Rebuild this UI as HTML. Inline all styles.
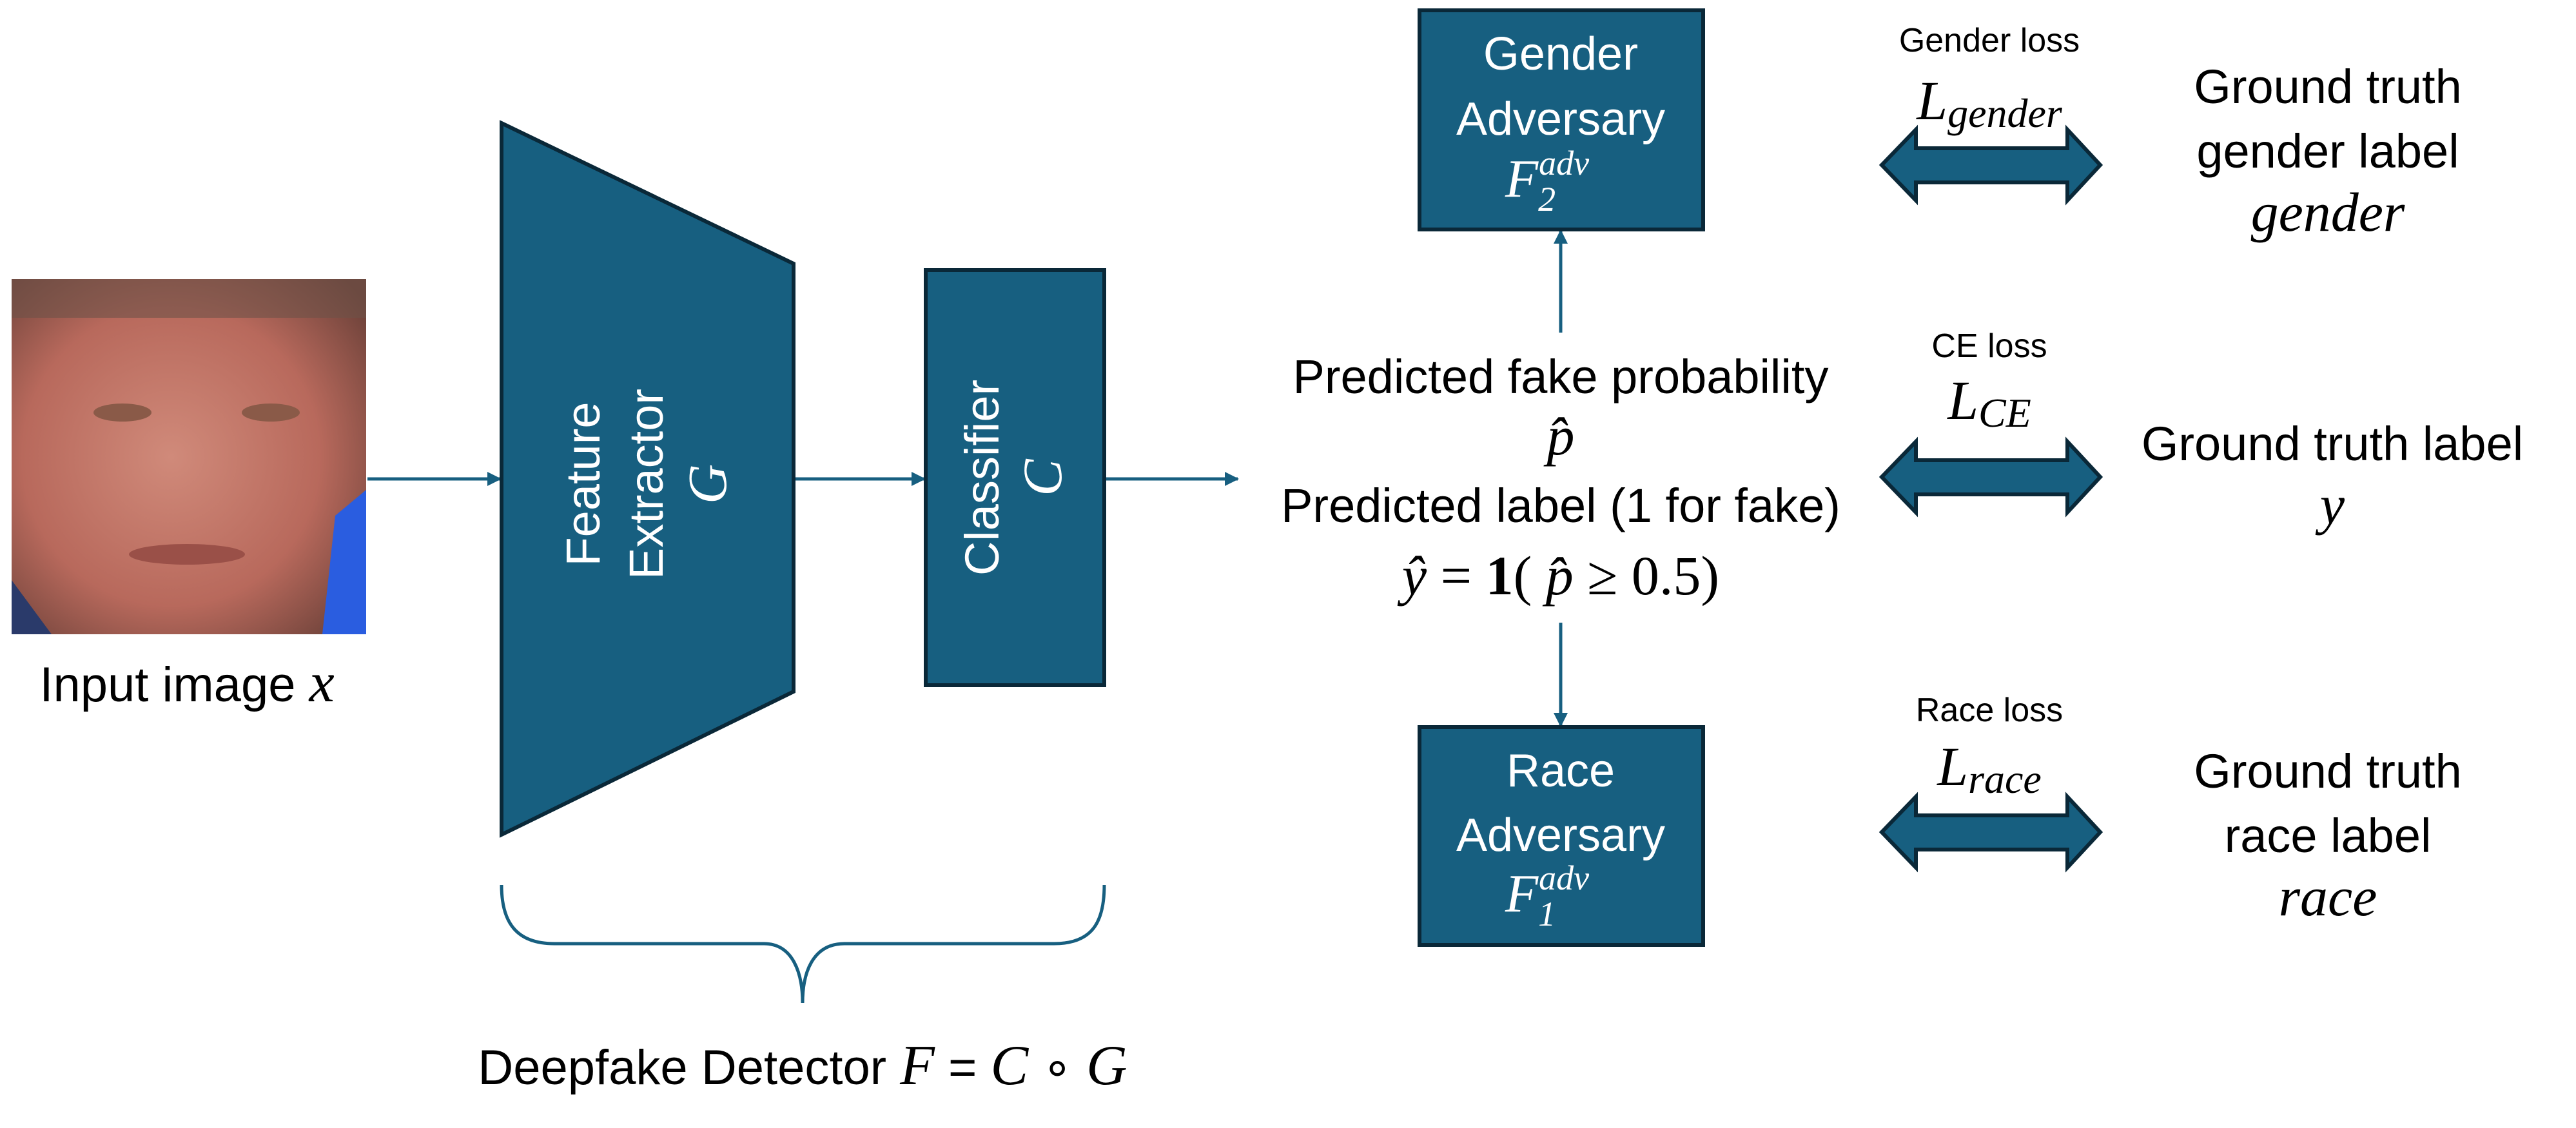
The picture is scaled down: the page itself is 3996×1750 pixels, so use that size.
<!DOCTYPE html>
<html><head><meta charset="utf-8"><style>
html,body{margin:0;padding:0;background:#fff;}
svg{display:block;}
.t{font-family:"Liberation Sans",sans-serif;}
.m{font-family:"Liberation Serif",serif;font-style:italic;}
</style></head><body>
<svg width="3996" height="1750" viewBox="0 0 3996 1750" xmlns="http://www.w3.org/2000/svg">
<defs>
<radialGradient id="skin" cx="0.45" cy="0.5" r="0.7">
<stop offset="0" stop-color="#d08a7a"/><stop offset="0.6" stop-color="#b8695c"/><stop offset="1" stop-color="#6a4038"/>
</radialGradient>
<marker id="ah" markerWidth="22" markerHeight="22" refX="20" refY="11" orient="auto" markerUnits="userSpaceOnUse" viewBox="0 0 22 22"><path d="M0,0 L22,11 L0,22 z" fill="#175f80"/></marker>
</defs>
<rect x="18" y="433" width="550" height="551" fill="url(#skin)"/>
<rect x="18" y="433" width="550" height="60" fill="#6e5247" opacity="0.6"/>
<polygon points="520,800 568,760 568,984 500,984" fill="#2a5de0"/>
<polygon points="18,900 80,984 18,984" fill="#2a3a6a"/>
<ellipse cx="190" cy="640" rx="45" ry="14" fill="#8a5a48"/>
<ellipse cx="420" cy="640" rx="45" ry="14" fill="#8a5a48"/>
<ellipse cx="290" cy="860" rx="90" ry="16" fill="#9a5048"/>
<text class="t" x="290" y="1088" font-size="76" text-anchor="middle">Input image <tspan class="m" font-size="88">x</tspan></text>
<g stroke="#175f80" stroke-width="5" fill="none">
<line x1="570" y1="743" x2="776" y2="743" marker-end="url(#ah)"/>
<line x1="1231" y1="743" x2="1434" y2="743" marker-end="url(#ah)"/>
<line x1="1713" y1="743" x2="1920" y2="743" marker-end="url(#ah)"/>
<line x1="2421" y1="516" x2="2421" y2="358" marker-end="url(#ah)"/>
<line x1="2421" y1="966" x2="2421" y2="1126" marker-end="url(#ah)"/>
</g>
<polygon points="778,191 1231,409 1231,1073 778,1295" fill="#175f80" stroke="#0a2838" stroke-width="6"/>
<g fill="#fff" font-size="74">
<text class="t" transform="translate(930,751) rotate(-90)" text-anchor="middle">Feature</text>
<text class="t" transform="translate(1028,751) rotate(-90)" text-anchor="middle">Extractor</text>
<text class="m" font-size="86" transform="translate(1126,751) rotate(-90)" text-anchor="middle">G</text>
</g>
<rect x="1436" y="419" width="277" height="644" fill="#175f80" stroke="#0a2838" stroke-width="6"/>
<g fill="#fff" font-size="74">
<text class="t" transform="translate(1549,741) rotate(-90)" text-anchor="middle">Classifier</text>
<text class="m" font-size="86" transform="translate(1646,741) rotate(-90)" text-anchor="middle">C</text>
</g>
<path d="M778,1373 C778,1430 800,1464 860,1464 L1185,1464 C1230,1464 1245,1510 1245,1556 C1245,1510 1260,1464 1310,1464 L1635,1464 C1695,1464 1713,1430 1713,1373" fill="none" stroke="#175f80" stroke-width="5"/>
<text class="t" x="1245" y="1682" font-size="76" text-anchor="middle">Deepfake Detector <tspan class="m" font-size="88">F</tspan> = <tspan class="m" font-size="88">C</tspan> ∘ <tspan class="m" font-size="88">G</tspan></text>
<rect x="2202" y="16" width="440" height="340" fill="#175f80" stroke="#0a2838" stroke-width="6"/>
<g fill="#fff" font-size="72" text-anchor="middle">
<text class="t" x="2421" y="108">Gender</text>
<text class="t" x="2421" y="209">Adversary</text>
<text class="m" font-size="84" x="2400" y="305">F<tspan font-size="54" dy="22">2</tspan><tspan font-size="54" dy="-56" dx="-26">adv</tspan></text>
</g>
<rect x="2202" y="1128" width="440" height="338" fill="#175f80" stroke="#0a2838" stroke-width="6"/>
<g fill="#fff" font-size="72" text-anchor="middle">
<text class="t" x="2421" y="1220">Race</text>
<text class="t" x="2421" y="1320">Adversary</text>
<text class="m" font-size="84" x="2400" y="1414">F<tspan font-size="54" dy="22">1</tspan><tspan font-size="54" dy="-56" dx="-26">adv</tspan></text>
</g>
<g font-size="74" text-anchor="middle">
<text class="t" x="2421" y="610">Predicted fake probability</text>
<text class="m" font-size="86" x="2421" y="705">p̂</text>
<text class="t" x="2421" y="810">Predicted label (1 for fake)</text>
<text class="m" font-size="86" x="2421" y="922">ŷ <tspan font-style="normal">= </tspan><tspan font-style="normal" font-weight="bold">1</tspan><tspan font-style="normal">( </tspan>p̂<tspan font-style="normal"> ≥ 0.5)</tspan></text>
</g>
<g fill="#175f80" stroke="#0a2838" stroke-width="6" stroke-linejoin="miter">
<polygon points="2919,256 2972,201 2972,230 3207,230 3207,201 3258,256 3207,311 3207,283 2972,283 2972,311"/>
<polygon points="2919,740 2972,685 2972,714 3207,714 3207,685 3258,740 3207,795 3207,767 2972,767 2972,795"/>
<polygon points="2919,1291 2972,1236 2972,1265 3207,1265 3207,1236 3258,1291 3207,1346 3207,1318 2972,1318 2972,1346"/>
</g>
<g text-anchor="middle">
<text class="t" x="3086" y="80" font-size="52">Gender loss</text>
<text class="m" x="3086" y="185" font-size="86">L<tspan font-size="64" dy="12">gender</tspan></text>
<text class="t" x="3086" y="554" font-size="52">CE loss</text>
<text class="m" x="3086" y="650" font-size="86">L<tspan font-size="64" dy="12">CE</tspan></text>
<text class="t" x="3086" y="1119" font-size="52">Race loss</text>
<text class="m" x="3086" y="1218" font-size="86">L<tspan font-size="64" dy="12">race</tspan></text>
</g>
<g text-anchor="middle" font-size="74">
<text class="t" x="3611" y="160">Ground truth</text>
<text class="t" x="3611" y="260">gender label</text>
<text class="m" font-size="86" x="3611" y="358">gender</text>
<text class="t" x="3618" y="714">Ground truth label</text>
<text class="m" font-size="86" x="3618" y="812">y</text>
<text class="t" x="3611" y="1222">Ground truth</text>
<text class="t" x="3611" y="1322">race label</text>
<text class="m" font-size="86" x="3611" y="1420">race</text>
</g>
</svg>
</body></html>
